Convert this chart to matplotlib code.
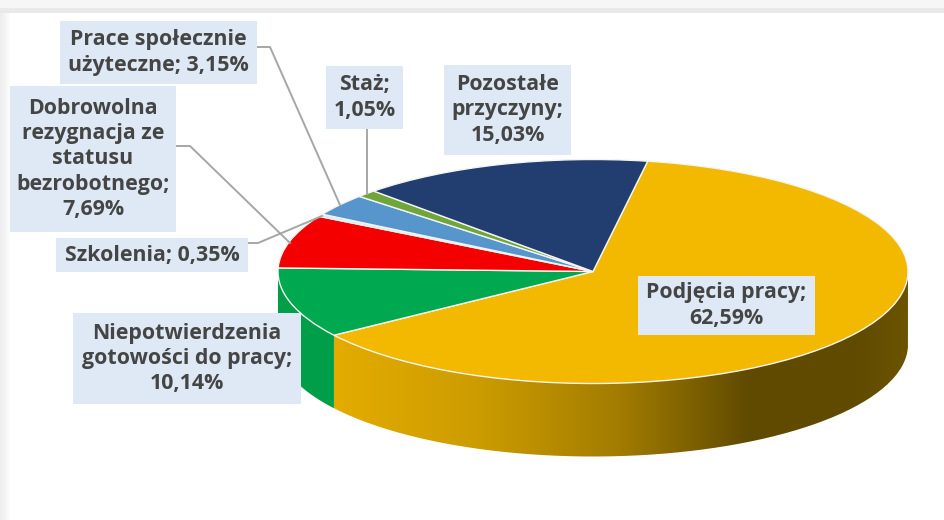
import numpy as np
import matplotlib
matplotlib.use("Agg")
import matplotlib.pyplot as plt
from matplotlib.colors import LinearSegmentedColormap
from matplotlib.patches import PathPatch, Rectangle
from matplotlib.path import Path

# slices, clockwise from the navy/yellow border
categories = ["Podjęcia pracy;", "Niepotwierdzenia\ngotowości do pracy;",
              "Dobrowolna\nrezygnacja ze\nstatusu\nbezrobotnego;", "Szkolenia;",
              "Prace społecznie\nużyteczne;", "Staż;", "Pozostałe\nprzyczyny;"]
values = [62.59, 10.14, 7.69, 0.35, 3.15, 1.05, 15.03]
colors = ["#F3B800", "#00A84F", "#F40000", "#DCE8F2", "#5796CC", "#6FA63C", "#223D70"]
sep = ["\n", "\n", "\n", " ", " ", "\n", "\n"]

# label boxes in pixels: left, top, right, bottom
boxes = [(638, 276, 815, 335), (73, 313, 301, 404), (10, 86, 176, 232), (56, 238, 248, 272),
         (60, 21, 257, 84), (326, 66, 403, 129), (444, 65, 571, 155)]
leaders = [None, None,
           [(177, 146), (190, 146), (290, 243)],
           [(248, 243), (258, 243), (322, 216)],
           [(258, 47), (270, 47), (340, 205)],
           [(367, 129), (367, 194)],
           None]

W, H = 945, 520
cx, cy, rx, ry, depth = 593, 271.5, 315, 112, 73
start = 80

plt.rcParams["font.family"] = ["Open Sans", "DejaVu Sans"]
fig = plt.figure(figsize=(W / 100, H / 100), dpi=100)


def px_axes(z):
    ax = fig.add_axes([0, 0, 1, 1], zorder=z)
    ax.set_xlim(0, W)
    ax.set_ylim(H, 0)
    ax.axis("off")
    return ax


back = px_axes(0)
# grey page around the white panel
back.imshow(np.linspace(0.93, 0.985, 10)[None, :], cmap="gray", vmin=0, vmax=1,
            extent=(0, 10, H, 0), aspect="auto")
back.add_patch(Rectangle((0, 0), W, 8, fc="#F6F6F6", ec="none"))
back.add_patch(Rectangle((0, 8), W, 5, fc="#E9E9E9", ec="none"))
back.set_xlim(0, W)
back.set_ylim(H, 0)

# side wall of the pie, drawn from the same slice angles
fr = np.array(values) / sum(values) * 360
ends = start - np.cumsum(fr)
t_yellow = ends[0]


def wall_path(a, b):
    t = np.radians(np.linspace(a, b, 120))
    x = cx + rx * np.cos(t)
    y = cy - ry * np.sin(t)
    pts = np.vstack([np.c_[x, y], np.c_[x, y + depth][::-1], [[x[0], y[0]]]])
    return Path(pts)


yellow_wall = wall_path(t_yellow, 0)
cmap = LinearSegmentedColormap.from_list(
    "wall", [(0, "#E4AC00"), (0.25, "#CC9C00"), (0.5, "#A27C00"), (0.72, "#614B00"), (0.9, "#5F4A00"), (1, "#6B5300")])
im = back.imshow(np.linspace(0, 1, 256)[None, :], cmap=cmap, extent=(333, 908, 470, 270), aspect="auto", zorder=2)
im.set_clip_path(PathPatch(yellow_wall, transform=back.transData))
back.set_xlim(0, W)
back.set_ylim(H, 0)

back.add_patch(PathPatch(wall_path(-180, t_yellow), fc="#009E49", ec="none", zorder=2))

# top of the pie, the axes is stretched so the circle becomes the ellipse
pie_ax = fig.add_axes([0, 0, 1, 1], zorder=1)
pie_ax.patch.set_alpha(0)
pie_ax.pie(values, colors=colors, startangle=start, counterclock=False, radius=1,
           wedgeprops={"edgecolor": "#F4F4F0", "linewidth": 1.0})
pie_ax.set_aspect("auto")
pie_ax.set_xlim((0 - cx) / rx, (W - cx) / rx)
pie_ax.set_ylim((cy - H) / ry, cy / ry)
pie_ax.axis("off")

top = px_axes(2)
top.patch.set_alpha(0)
for cat, val, s, box, lead in zip(categories, values, sep, boxes, leaders):
    x0, y0, x1, y1 = box
    if lead:
        top.plot(*zip(*lead), color="#A6A6A6", lw=1.4, solid_joinstyle="round")
    top.add_patch(Rectangle((x0, y0), x1 - x0, y1 - y0, fc="#DEE9F5", ec="none", zorder=3))
    label = cat + s + f"{val:.2f}".replace(".", ",") + "%"
    top.text((x0 + x1) / 2, (y0 + y1) / 2, label, ha="center", va="center", fontsize=15.4,
             fontweight="bold", color="#454545", linespacing=1.28, zorder=4)

fig.savefig("out.png", dpi=100)
